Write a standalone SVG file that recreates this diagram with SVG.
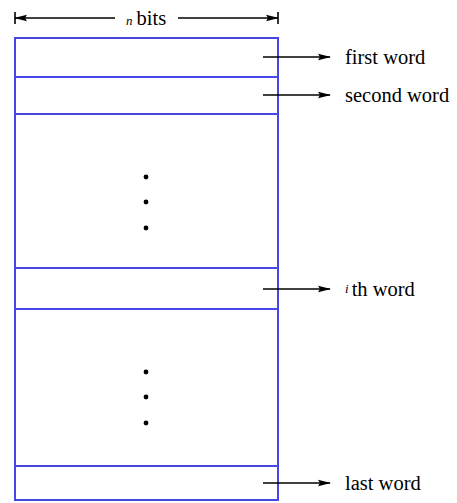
<svg xmlns="http://www.w3.org/2000/svg" width="457" height="503" viewBox="0 0 457 503">
<style>
.cell{fill:none;stroke:#4646e6;stroke-width:2}
.ln{stroke:#000;stroke-width:1.6;fill:none}
text,tspan{font-family:"Liberation Serif","Times New Roman",Times,serif;fill:#000}
.t{font-size:20.5px}
.it{font-size:13px;font-style:italic}
.dot{fill:#000}
</style>
<defs>
<marker id="ah" markerWidth="13" markerHeight="8" refX="12" refY="4" orient="auto" markerUnits="userSpaceOnUse">
<path d="M0,0.8 L13,4 L0,7.2 L2,4 Z" fill="#000"/>
</marker>
</defs>
<g id="memory">
<rect class="cell" x="15" y="38" width="263" height="462"/>
<line class="cell" x1="15" y1="77" x2="278" y2="77"/>
<line class="cell" x1="15" y1="114" x2="278" y2="114"/>
<line class="cell" x1="15" y1="268" x2="278" y2="268"/>
<line class="cell" x1="15" y1="309" x2="278" y2="309"/>
<line class="cell" x1="15" y1="466" x2="278" y2="466"/>
<circle class="dot" cx="146" cy="177" r="2.4"/>
<circle class="dot" cx="146" cy="202" r="2.4"/>
<circle class="dot" cx="146" cy="228" r="2.4"/>
<circle class="dot" cx="146" cy="372" r="2.4"/>
<circle class="dot" cx="146" cy="397" r="2.4"/>
<circle class="dot" cx="146" cy="423" r="2.4"/>
</g>
<g id="dimension">
<line class="ln" x1="15" y1="12" x2="15" y2="24"/>
<line class="ln" x1="278" y1="12" x2="278" y2="24"/>
<line class="ln" x1="115" y1="18" x2="15" y2="18" marker-end="url(#ah)"/>
<line class="ln" x1="178" y1="18" x2="278" y2="18" marker-end="url(#ah)"/>
<text x="126" y="25"><tspan class="it">n</tspan><tspan class="t" dx="4">bits</tspan></text>
</g>
<g id="connectors">
<line class="ln" x1="263" y1="57" x2="330" y2="57" marker-end="url(#ah)"/>
<line class="ln" x1="263" y1="95" x2="330" y2="95" marker-end="url(#ah)"/>
<line class="ln" x1="263" y1="289" x2="330" y2="289" marker-end="url(#ah)"/>
<line class="ln" x1="263" y1="483" x2="330" y2="483" marker-end="url(#ah)"/>
</g>
<g id="labels">
<text class="t" x="345" y="64">first word</text>
<text class="t" x="345" y="102">second word</text>
<text x="345" y="296"><tspan class="it" dy="-3">i</tspan><tspan class="t" dx="3" dy="3">th word</tspan></text>
<text class="t" x="345" y="490">last word</text>
</g>
</svg>
